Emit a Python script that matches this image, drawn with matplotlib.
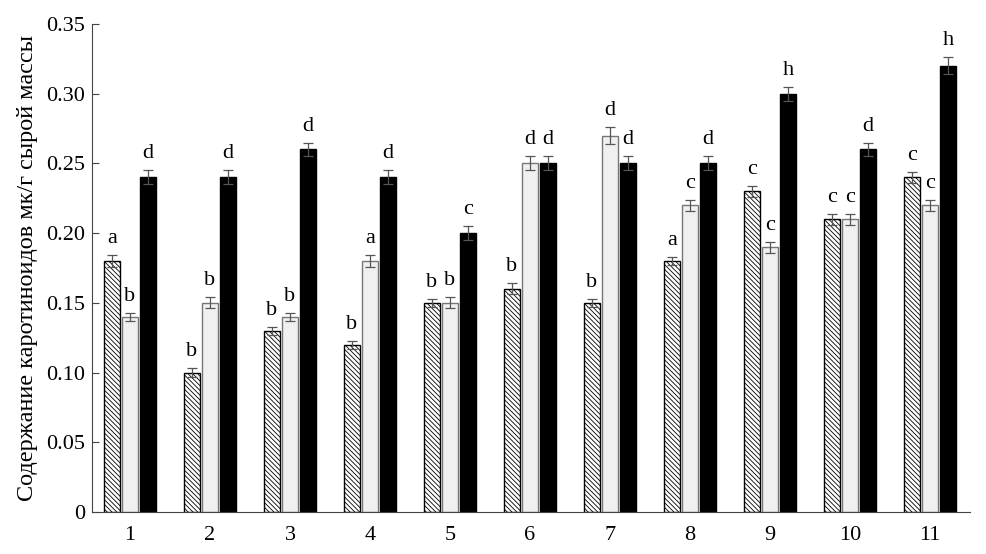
import matplotlib
matplotlib.use("Agg")
import matplotlib.pyplot as plt
import numpy as np
from matplotlib.ticker import FuncFormatter

plt.rcParams['font.family'] = ['Liberation Serif', 'DejaVu Serif']
plt.rcParams['hatch.linewidth'] = 0.6

groups = ['1', '2', '3', '4', '5', '6', '7', '8', '9', '10', '11']
hatched = [0.18, 0.10, 0.13, 0.12, 0.15, 0.16, 0.15, 0.18, 0.23, 0.21, 0.24]
light = [0.14, 0.15, 0.14, 0.18, 0.15, 0.25, 0.27, 0.22, 0.19, 0.21, 0.22]
black = [0.24, 0.24, 0.26, 0.24, 0.20, 0.25, 0.25, 0.25, 0.30, 0.26, 0.32]
err_h = [0.004, 0.003, 0.003, 0.003, 0.003, 0.004, 0.003, 0.003, 0.004, 0.004, 0.004]
err_l = [0.003, 0.004, 0.003, 0.004, 0.004, 0.005, 0.006, 0.004, 0.004, 0.004, 0.004]
err_b = [0.005, 0.005, 0.005, 0.005, 0.005, 0.005, 0.005, 0.005, 0.005, 0.005, 0.006]
let_h = ['a', 'b', 'b', 'b', 'b', 'b', 'b', 'a', 'c', 'c', 'c']
let_l = ['b', 'b', 'b', 'a', 'b', 'd', 'd', 'c', 'c', 'c', 'c']
let_b = ['d', 'd', 'd', 'd', 'c', 'd', 'd', 'd', 'h', 'd', 'h']
ylabel = 'Содержание каротиноидов мк/г сырой массы'

fig = plt.figure(figsize=(9.86, 5.54), dpi=100)
ax = fig.add_axes([0.0933, 0.0758, 0.8905, 0.8809])

x = np.arange(len(groups))
off = 0.225
w = 0.19
ekw = dict(ecolor='#555555', elinewidth=0.9, capsize=3.5, capthick=0.9)

ax.bar(x - off, hatched, w, yerr=err_h, facecolor='white', edgecolor='black',
       hatch='\\\\\\\\\\\\\\', linewidth=1.0, error_kw=ekw)
ax.bar(x, light, w, yerr=err_l, facecolor='#f0f0f0', edgecolor='#777777',
       linewidth=1.0, error_kw=ekw)
ax.bar(x + off, black, w, yerr=err_b, facecolor='black', edgecolor='black',
       linewidth=1.0, error_kw=ekw)

for xs, vals, errs, lets in [(x - off, hatched, err_h, let_h), (x, light, err_l, let_l),
                             (x + off, black, err_b, let_b)]:
    for xi, v, e, t in zip(xs, vals, errs, lets):
        ax.text(xi, v + e + 0.005, t, ha='center', va='bottom', fontsize=16)

ax.set_xlim(-0.475, 10.5)
ax.set_ylim(0, 0.35)
ax.set_xticks(x)
ax.set_xticklabels(groups, fontsize=16)
ax.set_yticks(np.arange(0, 0.351, 0.05))
ax.yaxis.set_major_formatter(FuncFormatter(lambda v, p: '0' if abs(v) < 1e-9 else f'{v:.2f}'))
ax.tick_params(axis='y', direction='in', length=5, labelsize=16, color='#444444', pad=5)
ax.tick_params(axis='x', length=0, labelsize=16, pad=10)
ax.spines['top'].set_visible(False)
ax.spines['right'].set_visible(False)
ax.spines['left'].set_color('#444444')
ax.spines['bottom'].set_color('#444444')
ax.set_ylabel(ylabel, fontsize=17.5, labelpad=6)

fig.savefig('out.png', dpi=100)
